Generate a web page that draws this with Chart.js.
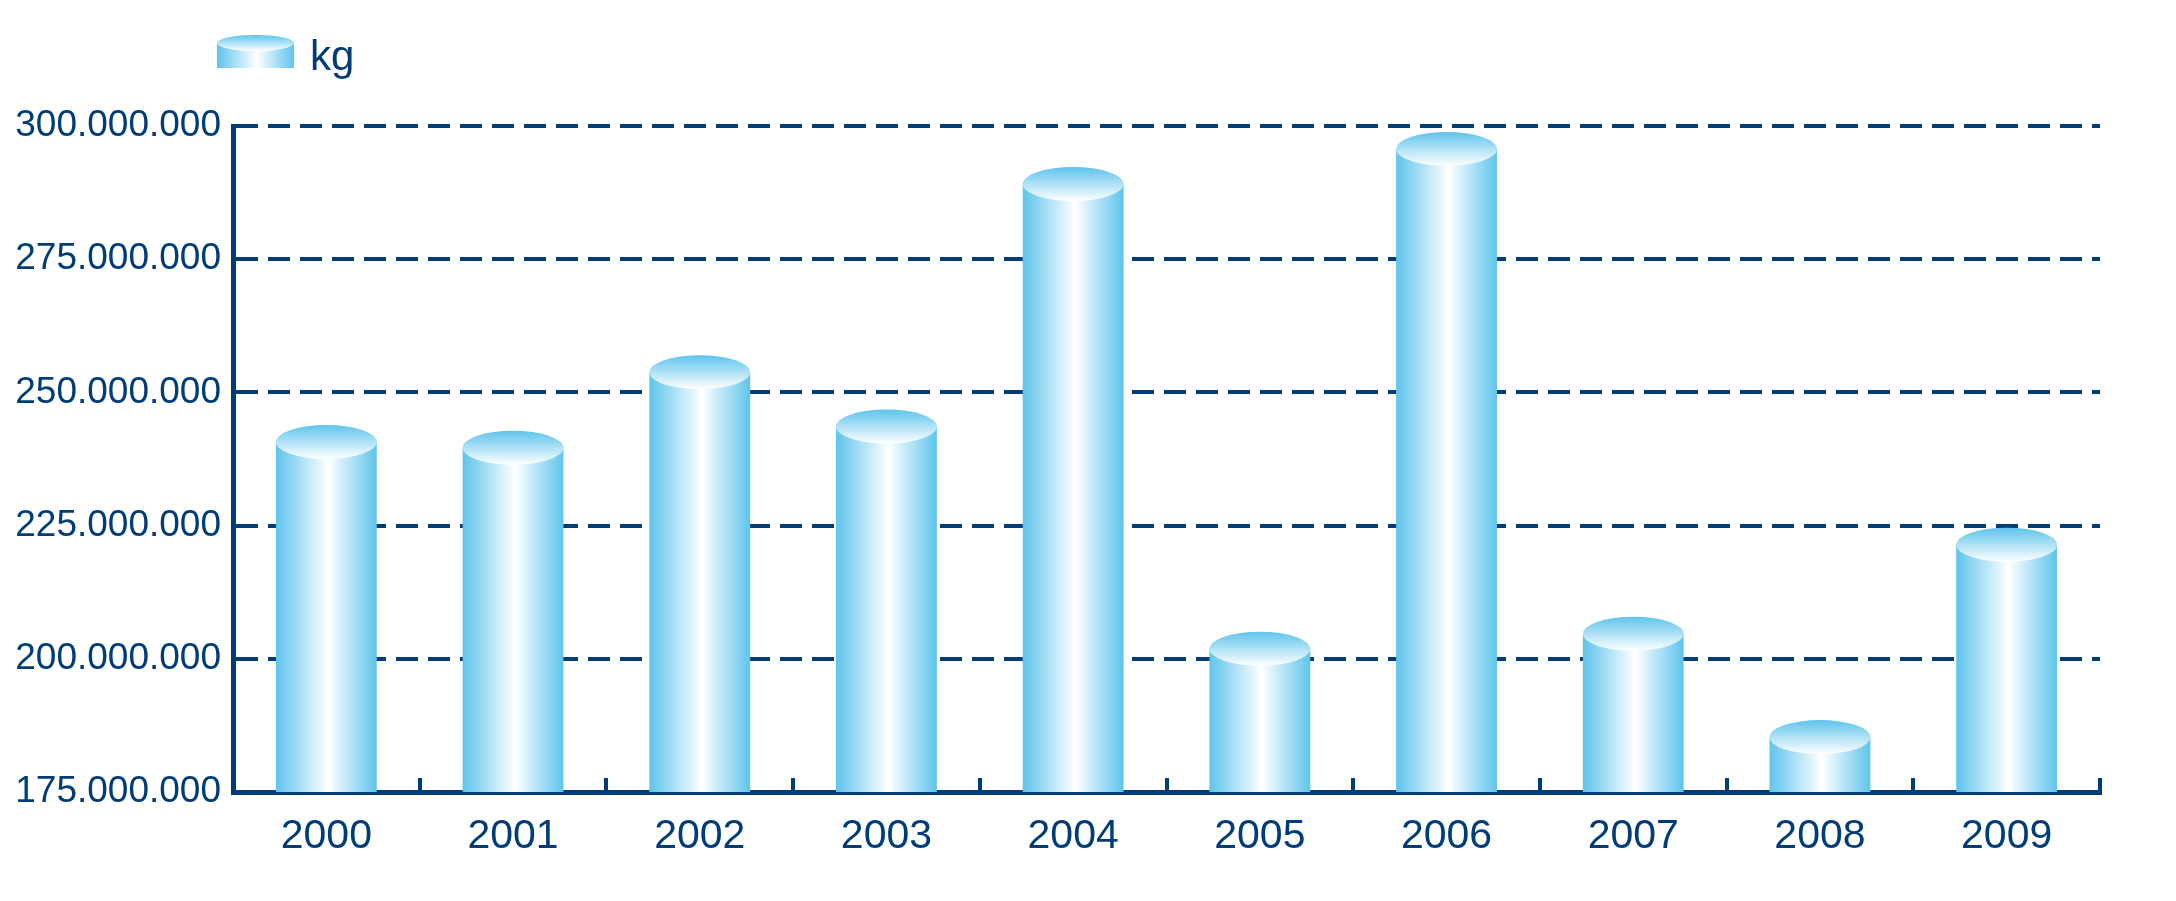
<!DOCTYPE html>
<html>
<head>
<meta charset="utf-8">
<script src="https://cdn.jsdelivr.net/npm/chart.js@4.4.0/dist/chart.umd.min.js"></script>
<style>
  html, body { margin: 0; padding: 0; background: #fff; }
</style>
</head>
<body>
<canvas id="myChart" width="2176" height="901"></canvas>
<script>
const ctx = document.getElementById("myChart");

/* data */
const years = ["2000", "2001", "2002", "2003", "2004", "2005", "2006", "2007", "2008", "2009"];
const kg = [240700000, 239600000, 253800000, 243600000, 289100000, 201900000, 295700000, 204700000, 185300000, 221400000];
const yMin = 175000000;
const yMax = 300000000;
const yStep = 25000000;

/* colours */
const navy = "#003c78";
const blue = "#5ec4ec";
const barPct = 0.54;
const font = "'Liberation Sans', Arial, sans-serif";

function dots(v) {
  return String(v).replace(/\B(?=(\d{3})+(?!\d))/g, ".");
}

/* side of a cylinder: horizontal gradient */
function sideGradient(c, left, right) {
  const g = c.createLinearGradient(left, 0, right, 0);
  g.addColorStop(0, blue);
  g.addColorStop(0.52, "#ffffff");
  g.addColorStop(1, blue);
  return g;
}

/* legend icon (upper part of a taller canvas so it sits above the text middle) */
const icon = document.createElement("canvas");
icon.width = 77;
icon.height = 46;
(function () {
  const c = icon.getContext("2d");
  c.fillStyle = sideGradient(c, 0, 77);
  c.fillRect(0, 8, 77, 25);
  const g = c.createLinearGradient(0, 0, 0, 16);
  g.addColorStop(0, blue);
  g.addColorStop(1, "#ffffff");
  c.beginPath();
  c.ellipse(38.5, 8, 38.5, 8, 0, 0, Math.PI * 2);
  c.fillStyle = g;
  c.fill();
})();

/* legend placement + top ellipses of the cylinders */
const cylinderTops = {
  id: "cylinderTops",
  afterLayout(chart) {
    const lg = chart.legend;
    lg.left += 212; lg.right += 212;
    lg.top -= 37; lg.bottom -= 37;
  },
  afterDatasetsDraw(chart) {
    const c = chart.ctx;
    chart.getDatasetMeta(0).data.forEach((bar) => {
      const rx = bar.width / 2, ry = 17;
      if (!isFinite(bar.x) || !isFinite(bar.y)) return;
      const g = c.createLinearGradient(0, bar.y - ry, 0, bar.y + ry);
      g.addColorStop(0, blue);
      g.addColorStop(1, "#ffffff");
      c.save();
      c.beginPath();
      c.ellipse(bar.x, bar.y, rx, ry, 0, 0, Math.PI * 2);
      c.fillStyle = g;
      c.fill();
      c.restore();
    });
  },
};

new Chart(ctx, {
  type: "bar",
  data: {
    labels: years,
    datasets: [
      {
        label: "kg",
        data: kg,
        barPercentage: barPct,
        categoryPercentage: 1,
        backgroundColor(context) {
          const chart = context.chart;
          const x = chart.scales.x;
          if (!x || context.dataIndex === undefined) return blue;
          const cx = x.getPixelForValue(context.dataIndex);
          const half = (x.width / years.length) * barPct / 2;
          if (!isFinite(cx) || !isFinite(half) || half <= 0) return blue;
          return sideGradient(chart.ctx, cx - half, cx + half);
        },
        borderWidth: 0,
      },
    ],
  },
  options: {
    responsive: false,
    animation: false,
    devicePixelRatio: 1,
    layout: { padding: { top: 64, right: 76, bottom: 43, left: 0 } },
    plugins: {
      legend: {
        position: "top",
        align: "start",
        labels: {
          usePointStyle: true,
          pointStyle: icon,
          pointStyleWidth: 67,
          padding: 10,
          color: navy,
          font: { family: font, size: 42 },
        },
      },
      tooltip: { enabled: false },
    },
    scales: {
      x: {
        afterFit(scale) { scale.height = 66; },
        grid: { display: true, drawOnChartArea: false, drawTicks: true, tickLength: -14, lineWidth: 4, color: navy },
        border: { display: true, color: navy, width: 5 },
        ticks: { color: navy, padding: 34, font: { family: font, size: 41 } },
      },
      y: {
        min: yMin,
        max: yMax,
        afterFit(scale) { scale.width = 233; },
        grid: { color: navy, lineWidth: 4, drawTicks: false },
        border: { display: true, color: navy, width: 5, dash: [22, 10] },
        ticks: {
          stepSize: yStep,
          color: navy,
          padding: 12,
          font: { family: font, size: 37 },
          callback: (v) => dots(v),
        },
      },
    },
  },
  plugins: [cylinderTops],
});
</script>
</body>
</html>
